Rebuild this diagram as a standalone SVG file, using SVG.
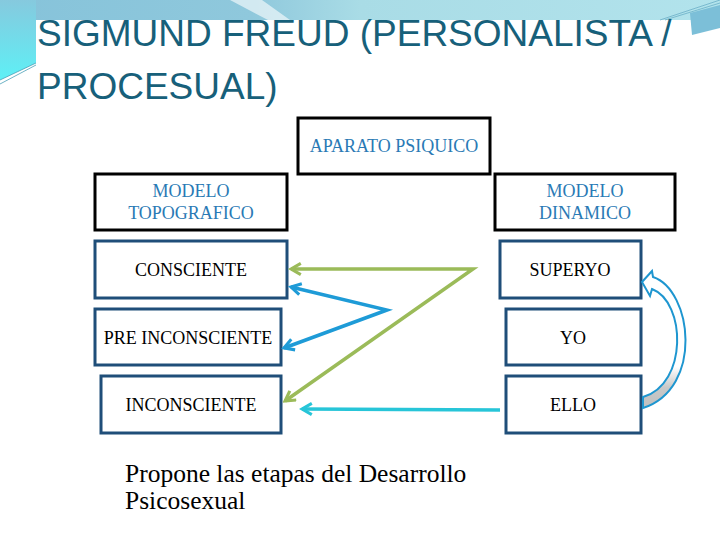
<svg xmlns="http://www.w3.org/2000/svg" width="720" height="540" viewBox="0 0 720 540">
<defs>
<linearGradient id="band" x1="0" y1="0" x2="1" y2="0">
<stop offset="0" stop-color="#86c3da"/><stop offset="0.35" stop-color="#8fc8dc"/><stop offset="0.5" stop-color="#a9dce6"/><stop offset="1" stop-color="#b2e3ec"/>
</linearGradient>
<linearGradient id="strip" x1="0" y1="0" x2="0" y2="1">
<stop offset="0" stop-color="#86c9de"/><stop offset="1" stop-color="#5ef0f6"/>
</linearGradient>
<linearGradient id="curv" x1="0" y1="0" x2="0" y2="1">
<stop offset="0" stop-color="#ffffff"/><stop offset="0.7" stop-color="#ffffff"/><stop offset="0.85" stop-color="#c8c8c8"/><stop offset="1" stop-color="#c0c0c0"/>
</linearGradient>
<marker id="ag" viewBox="0 0 10 10" refX="8" refY="5" markerWidth="4" markerHeight="4" orient="auto-start-reverse" markerUnits="strokeWidth">
<path d="M1,1 L8,5 L1,9" fill="none" stroke="#9bbb59" stroke-width="2.2"/>
</marker>
<marker id="ab" viewBox="0 0 10 10" refX="8" refY="5" markerWidth="4" markerHeight="4" orient="auto-start-reverse" markerUnits="strokeWidth">
<path d="M1,1 L8,5 L1,9" fill="none" stroke="#1e9bd7" stroke-width="2.2"/>
</marker>
<marker id="ac" viewBox="0 0 10 10" refX="8" refY="5" markerWidth="4" markerHeight="4" orient="auto-start-reverse" markerUnits="strokeWidth">
<path d="M1,1 L8,5 L1,9" fill="none" stroke="#27c5d8" stroke-width="2.2"/>
</marker>
<style>
.hdr rect{fill:#fff;stroke:#000;stroke-width:3}
.hdr text{font-family:"Liberation Serif",serif;font-size:18px;fill:#2a7ab5;text-anchor:middle}
.lvl rect{fill:#fff;stroke:#1f4e79;stroke-width:3}
.lvl text{font-family:"Liberation Serif",serif;font-size:18px;fill:#000;text-anchor:middle}
.title{font-family:"Liberation Sans",sans-serif;font-size:37px;fill:#17607a}
.note{font-family:"Liberation Serif",serif;font-size:25.5px;fill:#000}
</style>
</defs>
<rect width="720" height="540" fill="#fff"/>
<g id="background">
<rect x="0" y="0" width="720" height="20" fill="url(#band)"/>
<path d="M230,0 L262,0 L290,20 L268,20 Z" fill="#ffffff" opacity="0.6"/>
<path d="M0,0 L36,0 L36,63 L0,80 Z" fill="url(#strip)"/>
<path d="M0,80 L36,63 M0,84 L36,65" stroke="#4aa0b8" stroke-width="0.8" fill="none"/>
<path d="M690,13 L720,5 L720,28 L692,35 Z" fill="#7cbfd8"/>
<path d="M660,20 L720,0 M665,20 L720,3" stroke="#6aaec6" stroke-width="0.8" fill="none"/>
</g>
<text class="title" x="37" y="46">SIGMUND FREUD (PERSONALISTA /</text>
<text class="title" x="37" y="99">PROCESUAL)</text>
<g id="aparato" class="hdr"><rect x="298" y="118" width="192" height="56"/><text x="394" y="152">APARATO PSIQUICO</text></g>
<g id="topografico" class="hdr"><rect x="95" y="174" width="192" height="56"/><text x="191" y="197">MODELO</text><text x="191" y="219">TOPOGRAFICO</text></g>
<g id="dinamico" class="hdr"><rect x="495" y="174" width="180" height="56"/><text x="585" y="197">MODELO</text><text x="585" y="219">DINAMICO</text></g>
<g id="consciente" class="lvl"><rect x="95" y="241" width="192" height="57"/><text x="191" y="276">CONSCIENTE</text></g>
<g id="preinconsciente" class="lvl"><rect x="95" y="309" width="186" height="56"/><text x="188" y="344">PRE INCONSCIENTE</text></g>
<g id="inconsciente" class="lvl"><rect x="101" y="376" width="180" height="57"/><text x="191" y="411">INCONSCIENTE</text></g>
<g id="superyo" class="lvl"><rect x="500" y="241" width="141" height="57"/><text x="570" y="276">SUPERYO</text></g>
<g id="yo" class="lvl"><rect x="506" y="309" width="135" height="56"/><text x="573" y="344">YO</text></g>
<g id="ello" class="lvl"><rect x="506" y="376" width="135" height="57"/><text x="573" y="411">ELLO</text></g>
<g id="connectors" fill="none">
<path d="M291,269 L473,269 L285,401" stroke="#9bbb59" stroke-width="3.5" marker-start="url(#ag)" marker-end="url(#ag)"/>
<path d="M291,287 L387,310 L284,348" stroke="#1e9bd7" stroke-width="3.5" marker-start="url(#ab)" marker-end="url(#ab)"/>
<path d="M500,410 L302,409" stroke="#27c5d8" stroke-width="3.5" marker-end="url(#ac)"/>
<path d="M642,282 L652,271 L653,277 C692,290 704,388 643,408 L643,397 C688,384 686,302 652,289 L650,296 Z" fill="url(#curv)" stroke="#1e96d0" stroke-width="2" stroke-linejoin="miter"/>
</g>
<text class="note" x="125" y="482">Propone las etapas del Desarrollo</text>
<text class="note" x="125" y="509">Psicosexual</text>
</svg>
